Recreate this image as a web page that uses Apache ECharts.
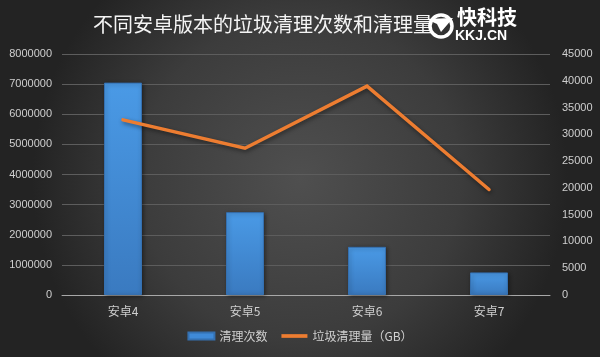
<!DOCTYPE html>
<html><head><meta charset="utf-8">
<script src="https://cdn.jsdelivr.net/npm/echarts@6/dist/echarts.min.js"></script>
<style>html,body{margin:0;padding:0;background:#333}#c{width:600px;height:357px}</style>
</head><body><div id="c"></div>
<script>
var categories = ['安卓4', '安卓5', '安卓6', '安卓7'];
var cleanCounts = [7050000, 2750000, 1600000, 750000];
var cleanAmountGB = [32700, 27400, 39000, 19700];
var leftTicks = [0, 8000000, 1000000];
var rightTicks = [0, 45000, 5000];

var chart = echarts.init(document.getElementById('c'), null, {renderer: 'canvas'});
var numFont = '"Liberation Sans", Arial, sans-serif';
var cjkFont = '"Noto Sans CJK SC", sans-serif';
function plain(v) { return String(v); }
chart.setOption({
  animation: false,
  backgroundColor: {
    type: 'radial', x: 0.5, y: 0.5, r: 0.75,
    colorStops: [{offset: 0, color: '#4f4f4f'}, {offset: 0.6, color: '#3c3c3c'}, {offset: 1, color: '#232323'}]
  },
  graphic: [
    {type: 'text', x: 93, y: 14, style: {text: '不同安卓版本的垃圾清理次数和清理量', fill: '#f4f4f4',
      fontSize: 20, fontFamily: 'Noto Sans CJK SC', fontWeight: 'normal',
      shadowColor: 'rgba(0,0,0,0.6)', shadowBlur: 3, shadowOffsetY: 1}},
    {type: 'circle', shape: {cx: 441, cy: 26, r: 11}, style: {fill: 'none', stroke: '#fff', lineWidth: 3.5}},
    {type: 'polygon', shape: {points: [[426, 19], [453, 18], [441, 32], [437, 24]]}, style: {fill: '#fff'}},
    {type: 'text', x: 457, y: 7, style: {text: '快科技', fill: '#fff', fontSize: 20, fontWeight: 'bold', fontFamily: 'Noto Sans CJK SC'}},
    {type: 'text', x: 455, y: 29, style: {text: 'KKJ.CN', fill: '#fff', fontSize: 14, fontWeight: 'bold', fontFamily: 'Liberation Sans'}}
  ],
  legend: {
    bottom: 10, left: 'center', itemGap: 14,
    textStyle: {color: '#d0d0d0', fontSize: 12, fontFamily: cjkFont},
    data: [
      {name: '清理次数', icon: 'rect', itemStyle: {color: '#3f8ad8'}},
      {name: '垃圾清理量（GB）', icon: 'path://M0,0h28v4h-28z', itemStyle: {color: '#ed7d31'}}
    ],
    itemWidth: 26, itemHeight: 7
  },
  grid: {left: 62, right: 50, top: 54, bottom: 62},
  xAxis: {
    type: 'category', data: categories,
    axisLine: {lineStyle: {color: '#a8a8a8', width: 1}},
    axisTick: {show: false},
    axisLabel: {color: '#cfcfcf', fontSize: 12, fontFamily: cjkFont, margin: 10}
  },
  yAxis: [
    {type: 'value', min: leftTicks[0], max: leftTicks[1], interval: leftTicks[2],
      axisLine: {show: false}, axisTick: {show: false},
      axisLabel: {color: '#cfcfcf', fontSize: 11, fontFamily: numFont, margin: 10, formatter: plain},
      splitLine: {lineStyle: {color: '#5d5d5d', width: 1}}},
    {type: 'value', min: rightTicks[0], max: rightTicks[1], interval: rightTicks[2],
      axisLine: {show: false}, axisTick: {show: false},
      axisLabel: {color: '#cfcfcf', fontSize: 11, fontFamily: numFont, margin: 12, formatter: plain},
      splitLine: {show: false}}
  ],
  series: [
    {name: '清理次数', type: 'bar', yAxisIndex: 0, data: cleanCounts, barWidth: 38,
      itemStyle: {
        color: {type: 'linear', x: 0, y: 0, x2: 0, y2: 1,
          colorStops: [{offset: 0, color: '#4a9ae6'}, {offset: 1, color: '#3a7ac0'}]},
        borderColor: '#3570b0', borderWidth: 1,
        shadowColor: 'rgba(0,0,0,0.4)', shadowBlur: 4, shadowOffsetX: 1, shadowOffsetY: 1
      }},
    {name: '垃圾清理量（GB）', type: 'line', yAxisIndex: 1, data: cleanAmountGB,
      symbol: 'none', smooth: false,
      lineStyle: {color: '#ed7d31', width: 3.5, cap: 'round', join: 'miter',
        shadowColor: 'rgba(0,0,0,0.45)', shadowBlur: 4, shadowOffsetX: 1, shadowOffsetY: 2},
      itemStyle: {color: '#ed7d31'}}
  ]
});
</script></body></html>
